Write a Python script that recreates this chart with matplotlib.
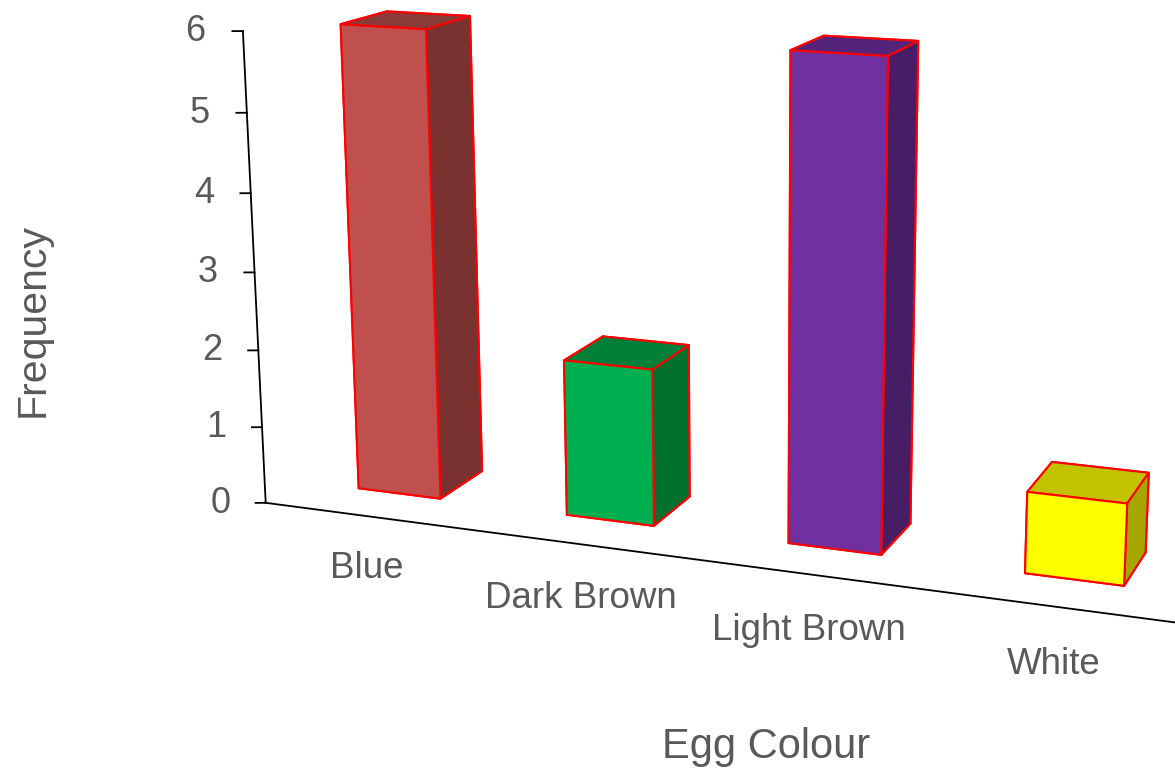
import numpy as np
import matplotlib
matplotlib.use("Agg")
import matplotlib.pyplot as plt
from mpl_toolkits.mplot3d import proj3d

plt.rcParams['font.family'] = ['Liberation Sans', 'DejaVu Sans']

# data
categories = ["Blue", "Dark Brown", "Light Brown", "White"]
frequency = [6, 2, 6, 1]
y_ticks = [0, 1, 2, 3, 4, 5, 6]

# colours: front, side, top
front_cols = ["#C0504D", "#00B050", "#7030A0", "#FFFF00"]
side_cols = ["#7A3230", "#00702F", "#471E66", "#A6A600"]
top_cols = ["#8A3A38", "#007F38", "#54247A", "#C2C200"]

text_col = "#595959"
bar_w = 0.4
bar_front = 0.72
bar_depth = 0.93
depth = 3.0
axis_x0 = 0.02

fig = plt.figure(figsize=(11.75, 7.69), dpi=100)
ax = fig.add_axes([0.1785, -0.0613, 0.894, 1.365], projection='3d')
ax.view_init(elev=14, azim=-69.5)
ax.set_proj_type('persp', focal_length=0.45)
ax.set_xlim(0, 4, view_margin=0)
ax.set_ylim(0, depth, view_margin=0)
ax.set_zlim(0, 6, view_margin=0)
ax.set_box_aspect((966, 315, 494), zoom=1.035)
ax.set_axis_off()
ax.patch.set_alpha(0)


def label(x, y, z, s, **kw):
    # place text at a 3d point, but as plain 2d text
    px, py, _ = proj3d.proj_transform(x, y, z, ax.get_proj())
    ax.text2D(px, py, s, transform=ax.transData, color=text_col, ha='center', va='center', **kw)


# bars
for i, v in enumerate(frequency):
    cols = [front_cols[i], top_cols[i], front_cols[i], side_cols[i], side_cols[i], side_cols[i]]
    ax.bar3d(i + 0.5 - bar_w / 2, bar_front, 0, bar_w, bar_depth, v, color=cols, shade=False,
             edgecolor="#FF0000", linewidth=1.5)

# axis lines
ax.plot([axis_x0, axis_x0], [0, 0], [0, 6], color="black", lw=1.3)
ax.plot([axis_x0, 4], [0, 0], [0, 0], color="black", lw=1.3)

for t in y_ticks:
    ax.plot([axis_x0, axis_x0 - 0.04], [0, -0.037], [t, t], color="black", lw=1.3)
    label(axis_x0 - 0.18, -0.17, t, str(t), fontsize=26)

for i, c in enumerate(categories):
    label(i + 0.5, 0, -0.7, c, fontsize=26.5)

fig.text(766 / 1175, 1 - 747 / 769, "Egg Colour", color=text_col, fontsize=30, ha='center', va='center')
fig.text(33 / 1175, 1 - 320 / 769, "Frequency", color=text_col, fontsize=29.5, rotation=90, ha='center', va='center')

fig.savefig("out.png", dpi=100)
